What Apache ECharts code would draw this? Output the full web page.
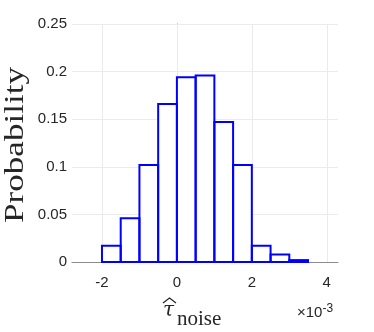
<!DOCTYPE html>
<html>
<head>
<meta charset="utf-8">
<script src="https://cdn.jsdelivr.net/npm/echarts@6/dist/echarts.min.js"></script>
<style>
  html, body { margin: 0; padding: 0; background: #fff; }
  #chart { width: 374px; height: 332px; }
</style>
</head>
<body>
<div id="chart"></div>
<script>
// histogram bins (x in units of 1e-3)
var binLeft = [-2, -1.5, -1, -0.5, 0, 0.5, 1, 1.5, 2, 2.5, 3];
var binWidth = 0.5;
var prob = [0.017, 0.046, 0.102, 0.166, 0.194, 0.196, 0.147, 0.102, 0.017, 0.008, 0.002];
// axis ticks
var xTicks = [-2, 0, 2, 4];
var yTicks = [0, 0.05, 0.1, 0.15, 0.2, 0.25];

var myChart = echarts.init(document.getElementById('chart'));

var barData = binLeft.map(function (x, i) {
    return [x, x + binWidth, prob[i]];
});

// 柱子：先画白色填充，再画蓝色边框
function barRender(fill, stroke) {
    return function (params, api) {
        var p0 = api.coord([api.value(0), api.value(2)]);
        var p1 = api.coord([api.value(1), 0]);
        return {
            type: 'rect',
            shape: { x: p0[0], y: p0[1], width: p1[0] - p0[0], height: p1[1] - p0[1] },
            style: { fill: fill, stroke: stroke, lineWidth: 2 }
        };
    };
}

var option = {
    animation: false,
    grid: { left: 72, top: 24, width: 266, height: 238 },
    xAxis: {
        type: 'value',
        min: -2.8,
        max: 4.3,
        interval: 0.1,
        axisLine: { show: true, onZero: false, lineStyle: { color: '#8c8c8c', width: 1 } },
        axisTick: { show: false },
        splitLine: { show: false },
        axisLabel: {
            color: '#262626',
            fontFamily: 'Liberation Sans',
            fontSize: 15,
            margin: 13,
            formatter: function (v) {
                var r = Math.round(v);
                if (Math.abs(v - r) < 1e-6 && xTicks.indexOf(r) >= 0) return String(r);
                return '';
            }
        }
    },
    yAxis: {
        type: 'value',
        min: yTicks[0],
        max: yTicks[yTicks.length - 1],
        interval: 0.05,
        axisLine: { show: true, lineStyle: { color: '#8c8c8c', width: 1 } },
        axisTick: { show: false },
        splitLine: { show: true, lineStyle: { color: '#ebebeb', width: 1 } },
        axisLabel: {
            color: '#262626',
            fontFamily: 'Liberation Sans',
            fontSize: 15,
            margin: 5
        }
    },
    series: [
        {
            // vertical grid lines
            type: 'line',
            data: [],
            z: 1,
            silent: true,
            markLine: {
                z: 1,
                symbol: 'none',
                silent: true,
                label: { show: false },
                lineStyle: { color: '#ebebeb', width: 1, type: 'solid' },
                data: xTicks.map(function (t) { return { xAxis: t }; })
            }
        },
        {
            type: 'custom',
            z: 3,
            data: barData,
            encode: { x: [0, 1], y: 2 },
            renderItem: barRender('#ffffff', null)
        },
        {
            type: 'custom',
            z: 4,
            data: barData,
            encode: { x: [0, 1], y: 2 },
            renderItem: barRender(null, '#0000ff')
        }
    ],
    graphic: [
        {
            type: 'text',
            x: 16, y: 145,
            rotation: Math.PI / 2,
            scaleX: 1.3,
            style: {
                text: 'Probability',
                fontFamily: 'Liberation Serif',
                fontSize: 27,
                fill: '#262626',
                align: 'center',
                verticalAlign: 'middle'
            }
        },
        {
            type: 'text',
            x: 163, y: 311,
            style: {
                text: 'τ',
                fontFamily: 'DejaVu Serif',
                fontStyle: 'italic',
                fontSize: 20,
                fill: '#262626',
                verticalAlign: 'middle'
            }
        },
        {
            type: 'polyline',
            shape: { points: [[163, 303], [169.5, 298], [176, 303]] },
            style: { stroke: '#262626', lineWidth: 1.2, fill: null }
        },
        {
            type: 'text',
            x: 177, y: 319,
            style: {
                text: 'noise',
                fontFamily: 'Liberation Serif',
                fontSize: 21,
                fill: '#262626',
                verticalAlign: 'middle'
            }
        },
        {
            type: 'text',
            x: 297, y: 313,
            style: {
                text: '×10{s|-3}',
                fontFamily: 'Liberation Sans',
                fontSize: 15,
                fill: '#262626',
                verticalAlign: 'middle',
                rich: {
                    s: { fontFamily: 'Liberation Sans', fontSize: 12, fill: '#262626', verticalAlign: 'top', padding: [0, 0, 8, 0] }
                }
            }
        }
    ]
};

myChart.setOption(option);
window.onresize = myChart.resize;
</script>
</body>
</html>
